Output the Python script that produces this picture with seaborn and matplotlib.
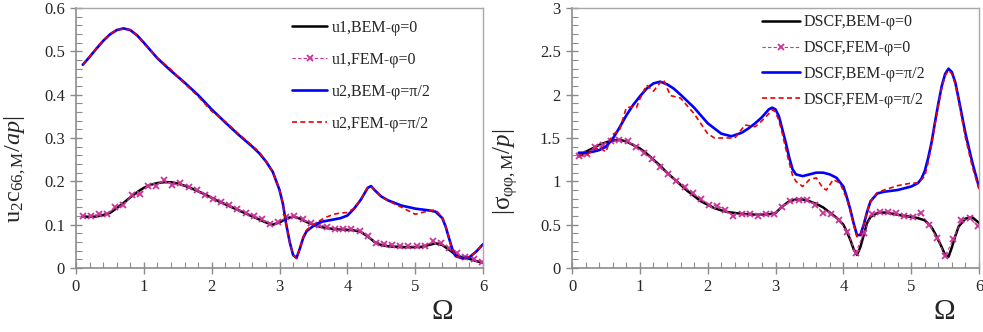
import numpy as np
import pandas as pd
import matplotlib
matplotlib.use("Agg")
import matplotlib.pyplot as plt
from matplotlib.ticker import MultipleLocator, FormatStrFormatter
import seaborn as sns

# ---------------- data ----------------
OM_STEP = [0.1, 0.2, 0.3, 0.4, 0.5, 0.6, 0.7, 0.8, 0.9, 1.0,
           1.1, 1.2, 1.3, 1.4, 1.5, 1.6, 1.7, 1.8, 1.9, 2.0,
           2.1, 2.2, 2.3, 2.4, 2.5, 2.6, 2.7, 2.8, 2.9, 3.0,
           3.1, 3.2, 3.3, 3.4, 3.5, 3.6, 3.7, 3.8, 3.9, 4.0,
           4.1, 4.2, 4.3, 4.4, 4.5, 4.6, 4.7, 4.8, 4.9, 5.0,
           5.1, 5.2, 5.3, 5.4, 5.5, 5.6, 5.7, 5.8, 5.9, 6.0]

# FEM marker positions
OM_MK = [0.10, 0.22, 0.34, 0.46, 0.58, 0.70, 0.82, 0.94, 1.06, 1.18,
         1.30, 1.42, 1.54, 1.66, 1.78, 1.90, 2.02, 2.14, 2.26, 2.38,
         2.50, 2.62, 2.74, 2.86, 2.98, 3.10, 3.22, 3.34, 3.46, 3.58,
         3.70, 3.82, 3.94, 4.06, 4.18, 4.30, 4.42, 4.54, 4.66, 4.78,
         4.90, 5.02, 5.14, 5.26, 5.38, 5.50, 5.62, 5.74, 5.86, 5.98]

# left panel: displacements
u1_bem = [0.119, 0.118, 0.119, 0.122, 0.127, 0.138, 0.150, 0.163, 0.175, 0.185,
          0.192, 0.196, 0.198, 0.198, 0.195, 0.190, 0.184, 0.177, 0.170, 0.162,
          0.154, 0.147, 0.140, 0.133, 0.126, 0.119, 0.112, 0.105, 0.100, 0.105,
          0.114, 0.119, 0.114, 0.106, 0.100, 0.095, 0.092, 0.090, 0.089, 0.088,
          0.087, 0.083, 0.073, 0.060, 0.053, 0.050, 0.049, 0.048, 0.048, 0.048,
          0.049, 0.053, 0.057, 0.053, 0.042, 0.030, 0.024, 0.021, 0.016, 0.012]

u1_fem = [0.121, 0.119, 0.125, 0.124, 0.140, 0.145, 0.168, 0.170, 0.190, 0.190,
          0.204, 0.192, 0.195, 0.186, 0.180, 0.168, 0.160, 0.152, 0.145, 0.136,
          0.128, 0.120, 0.114, 0.102, 0.106, 0.117, 0.120, 0.112, 0.104, 0.100,
          0.095, 0.090, 0.090, 0.091, 0.085, 0.074, 0.058, 0.056, 0.053, 0.051,
          0.051, 0.050, 0.050, 0.062, 0.057, 0.045, 0.034, 0.026, 0.020, 0.014]

OM_U2 = [0.1, 0.2, 0.3, 0.4, 0.5, 0.6, 0.7, 0.8, 0.9, 1.0,
         1.2, 1.4, 1.6, 1.8, 2.0, 2.2, 2.4, 2.6, 2.7, 2.8,
         2.9, 3.0, 3.05, 3.1, 3.15, 3.2, 3.25, 3.3, 3.35, 3.4,
         3.5, 3.6, 3.7, 3.8, 3.9, 4.0, 4.1, 4.2, 4.3, 4.35,
         4.4, 4.5, 4.6, 4.8, 5.0, 5.2, 5.3, 5.4, 5.45, 5.5,
         5.55, 5.6, 5.7, 5.8, 5.9, 6.0]

u2_bem = [0.469, 0.487, 0.506, 0.524, 0.539, 0.549, 0.553, 0.549, 0.537, 0.520,
          0.484, 0.455, 0.428, 0.399, 0.366, 0.336, 0.307, 0.280, 0.265, 0.246,
          0.222, 0.180, 0.148, 0.100, 0.060, 0.030, 0.023, 0.045, 0.070, 0.085,
          0.097, 0.106, 0.109, 0.112, 0.115, 0.121, 0.137, 0.158, 0.185, 0.189,
          0.180, 0.165, 0.156, 0.144, 0.137, 0.133, 0.130, 0.115, 0.095, 0.068,
          0.042, 0.027, 0.022, 0.025, 0.038, 0.055]

u2_fem = [0.470, 0.488, 0.507, 0.525, 0.540, 0.550, 0.551, 0.550, 0.536, 0.518,
          0.485, 0.458, 0.426, 0.396, 0.362, 0.338, 0.309, 0.282, 0.268, 0.247,
          0.222, 0.180, 0.148, 0.100, 0.060, 0.030, 0.023, 0.045, 0.072, 0.088,
          0.100, 0.110, 0.118, 0.124, 0.127, 0.128, 0.138, 0.159, 0.186, 0.188,
          0.181, 0.165, 0.155, 0.140, 0.124, 0.132, 0.134, 0.117, 0.096, 0.068,
          0.042, 0.027, 0.022, 0.026, 0.038, 0.055]

# right panel: DSCF
OM_S1 = [0.1, 0.2, 0.3, 0.4, 0.5, 0.6, 0.7, 0.8, 0.9, 1.0,
         1.1, 1.2, 1.3, 1.4, 1.5, 1.6, 1.7, 1.8, 1.9, 2.0,
         2.1, 2.2, 2.3, 2.4, 2.5, 2.6, 2.7, 2.8, 2.9, 3.0,
         3.1, 3.2, 3.3, 3.4, 3.5, 3.6, 3.7, 3.8, 3.9, 4.0,
         4.05, 4.1, 4.15, 4.2, 4.25, 4.3, 4.35, 4.4,
         4.5, 4.6, 4.7, 4.8, 4.9, 5.0, 5.1, 5.2, 5.3,
         5.35, 5.4, 5.45, 5.5, 5.55, 5.6, 5.65, 5.7,
         5.8, 5.9, 6.0]

s1_bem = [1.29, 1.34, 1.38, 1.42, 1.45, 1.47, 1.48, 1.46, 1.42, 1.38,
          1.32, 1.25, 1.18, 1.10, 1.03, 0.96, 0.89, 0.83, 0.77, 0.73,
          0.69, 0.665, 0.645, 0.635, 0.625, 0.62, 0.615, 0.615, 0.62, 0.635,
          0.71, 0.77, 0.79, 0.79, 0.77, 0.74, 0.70, 0.64, 0.58, 0.50,
          0.42, 0.33, 0.22, 0.15, 0.24, 0.38, 0.52, 0.59,
          0.635, 0.64, 0.63, 0.615, 0.60, 0.59, 0.575, 0.55, 0.47,
          0.40, 0.32, 0.24, 0.15, 0.13, 0.24, 0.37, 0.48,
          0.57, 0.585, 0.52]

s1_fem = [1.29, 1.32, 1.40, 1.42, 1.47, 1.48, 1.46, 1.40, 1.33, 1.26,
          1.17, 1.09, 1.00, 0.93, 0.86, 0.80, 0.73, 0.72, 0.67, 0.60,
          0.62, 0.62, 0.60, 0.62, 0.62, 0.70, 0.77, 0.79, 0.78, 0.73,
          0.64, 0.62, 0.55, 0.42, 0.17, 0.40, 0.62, 0.65, 0.65, 0.63,
          0.60, 0.59, 0.64, 0.50, 0.35, 0.14, 0.33, 0.55, 0.58, 0.48]

OM_S2 = [0.1, 0.2, 0.3, 0.4, 0.5, 0.6, 0.7, 0.8, 0.9, 1.0,
         1.1, 1.2, 1.3, 1.4, 1.5, 1.6, 1.8, 2.0, 2.2, 2.35,
         2.5, 2.6, 2.7, 2.8, 2.9, 2.95, 3.0, 3.05, 3.1, 3.15,
         3.2, 3.25, 3.3, 3.4, 3.5, 3.6, 3.7, 3.8, 3.9, 4.0,
         4.05, 4.1, 4.15, 4.2, 4.25, 4.3, 4.35, 4.4, 4.5, 4.6,
         4.8, 5.0, 5.1, 5.15, 5.2, 5.25, 5.3, 5.35, 5.4, 5.45,
         5.5, 5.55, 5.6, 5.65, 5.7, 5.8, 5.9, 6.0]

s2_bem = [1.33, 1.33, 1.34, 1.36, 1.40, 1.49, 1.62, 1.76, 1.88, 1.98,
          2.07, 2.13, 2.15, 2.12, 2.07, 2.00, 1.85, 1.67, 1.55, 1.52,
          1.56, 1.61, 1.67, 1.74, 1.83, 1.85, 1.83, 1.75, 1.60, 1.45,
          1.28, 1.14, 1.08, 1.06, 1.08, 1.10, 1.10, 1.08, 1.04, 0.94,
          0.82, 0.68, 0.52, 0.38, 0.38, 0.50, 0.65, 0.77, 0.86, 0.88,
          0.90, 0.94, 0.98, 1.03, 1.12, 1.27, 1.45, 1.68, 1.90, 2.10,
          2.24, 2.30, 2.26, 2.14, 1.95, 1.55, 1.22, 0.93]

OM_S2F = [0.1, 0.2, 0.3, 0.4, 0.5, 0.55, 0.6, 0.7, 0.8, 0.9,
          0.95, 1.0, 1.1, 1.2, 1.3, 1.35, 1.45, 1.6, 1.8, 2.0,
          2.1, 2.2, 2.4, 2.5, 2.55, 2.7, 2.8, 2.9, 2.95, 3.0,
          3.05, 3.1, 3.15, 3.2, 3.25, 3.3, 3.4, 3.5, 3.6, 3.7,
          3.75, 3.85, 3.95, 4.05, 4.1, 4.15, 4.2, 4.25, 4.3, 4.35,
          4.4, 4.5, 4.6, 4.8, 5.0, 5.1, 5.2, 5.25, 5.3, 5.35,
          5.4, 5.45, 5.5, 5.55, 5.6, 5.65, 5.7, 5.8, 5.9, 6.0]

s2_fem = [1.30, 1.29, 1.36, 1.39, 1.34, 1.45, 1.54, 1.59, 1.85, 1.86,
          1.85, 1.95, 2.11, 2.04, 2.14, 2.17, 1.99, 1.96, 1.78, 1.55,
          1.50, 1.50, 1.50, 1.60, 1.65, 1.63, 1.70, 1.78, 1.83, 1.80,
          1.70, 1.55, 1.38, 1.22, 1.07, 1.00, 0.94, 1.02, 1.04, 0.92,
          0.90, 1.02, 0.98, 0.80, 0.66, 0.50, 0.36, 0.38, 0.50, 0.65,
          0.77, 0.87, 0.90, 0.95, 0.98, 0.98, 1.06, 1.22, 1.42, 1.66,
          1.88, 2.08, 2.22, 2.28, 2.24, 2.12, 1.92, 1.50, 1.17, 0.91]

labels_left = ["u1,BEM-φ=0", "u1,FEM-φ=0", "u2,BEM-φ=π/2", "u2,FEM-φ=π/2"]
labels_right = ["DSCF,BEM-φ=0", "DSCF,FEM-φ=0", "DSCF,BEM-φ=π/2", "DSCF,FEM-φ=π/2"]

# ---------------- style ----------------
sns.set_style("white")
plt.rcParams["font.family"] = ["Liberation Serif", "DejaVu Serif"]
plt.rcParams["mathtext.fontset"] = "custom"
plt.rcParams["mathtext.rm"] = "Liberation Serif"
plt.rcParams["mathtext.it"] = "Liberation Serif:italic"

PINK = "#cc3399"

fig = plt.figure(figsize=(9.83, 3.32), dpi=100)
ax1 = fig.add_axes([0.0773, 0.1928, 0.4141, 0.7831])
ax2 = fig.add_axes([0.5819, 0.1928, 0.4141, 0.7831])


def draw(ax, xs, ys, labels):
    (x_b1, y_b1), (x_f1, y_f1), (x_b2, y_b2), (x_f2, y_f2) = zip(xs, ys)
    sns.lineplot(x=x_b1, y=y_b1, ax=ax, color="black", lw=1.8, label=labels[0],
                 sort=False, estimator=None)
    sns.lineplot(x=x_f1, y=y_f1, ax=ax, color=PINK, lw=0.8, ls=(0, (3, 2)),
                 marker="x", ms=5, mew=1.3, mec=PINK, label=labels[1],
                 sort=False, estimator=None)
    sns.lineplot(x=x_b2, y=y_b2, ax=ax, color="#0000ff", lw=1.9, label=labels[2],
                 sort=False, estimator=None)
    sns.lineplot(x=x_f2, y=y_f2, ax=ax, color="#ee0000", lw=1.2, ls=(0, (3, 2)),
                 label=labels[3], sort=False, estimator=None)


draw(ax1, [OM_STEP, OM_MK, OM_U2, OM_U2], [u1_bem, u1_fem, u2_bem, u2_fem], labels_left)
draw(ax2, [OM_S1, OM_MK, OM_S2, OM_S2F], [s1_bem, s1_fem, s2_bem, s2_fem], labels_right)

ax1.set_ylim(0, 0.6)
ax1.yaxis.set_major_locator(MultipleLocator(0.1))
ax1.yaxis.set_minor_locator(MultipleLocator(0.02))

ax2.set_ylim(0, 3)
ax2.yaxis.set_major_locator(MultipleLocator(0.5))
ax2.yaxis.set_minor_locator(MultipleLocator(0.1))

for ax in (ax1, ax2):
    ax.set_xlim(0, 6)
    ax.xaxis.set_major_locator(MultipleLocator(1))
    ax.xaxis.set_minor_locator(MultipleLocator(0.2))
    ax.xaxis.set_major_formatter(FormatStrFormatter("%g"))
    ax.yaxis.set_major_formatter(FormatStrFormatter("%g"))
    ax.tick_params(which="major", direction="inout", length=8, width=1,
                   color="#8c8c8c", labelsize=12, pad=4)
    ax.tick_params(which="minor", direction="in", length=4, width=0.8,
                   color="#8c8c8c")
    ax.tick_params(axis="y", which="both", left=True)
    ax.tick_params(axis="x", which="both", bottom=True)
    for side in ("left", "bottom"):
        ax.spines[side].set_color("#8c8c8c")
        ax.spines[side].set_linewidth(1.2)
    for side in ("top", "right"):
        ax.spines[side].set_color("#a8a8a8")
        ax.spines[side].set_linewidth(1.0)
    ax.set_xlabel("Ω", fontsize=21)

ax1.xaxis.set_label_coords(0.90, -0.12)
ax2.xaxis.set_label_coords(0.914, -0.12)

ax1.set_ylabel(r"u$_{\mathrm{2}}$c$_{\mathrm{66,M}}$/$ap$|", fontsize=17.5)
ax2.set_ylabel(r"|σ$_{\mathrm{φφ,M}}$/$p$|", fontsize=18)
ax1.yaxis.set_label_coords(-0.118, 0.38)
ax2.yaxis.set_label_coords(-0.125, 0.37)

ax1.legend(loc="upper left", bbox_to_anchor=(0.297, 0.94), bbox_transform=fig.transFigure,
           frameon=False, fontsize=11.5, handlelength=2.2, handletextpad=0.3,
           labelspacing=1.0, borderpad=0, borderaxespad=0)
ax2.legend(loc="upper left", bbox_to_anchor=(0.775, 0.957), bbox_transform=fig.transFigure,
           frameon=False, fontsize=11.5, handlelength=2.4, handletextpad=0.2,
           labelspacing=0.62, borderpad=0, borderaxespad=0)

fig.savefig("out.png", dpi=100)
